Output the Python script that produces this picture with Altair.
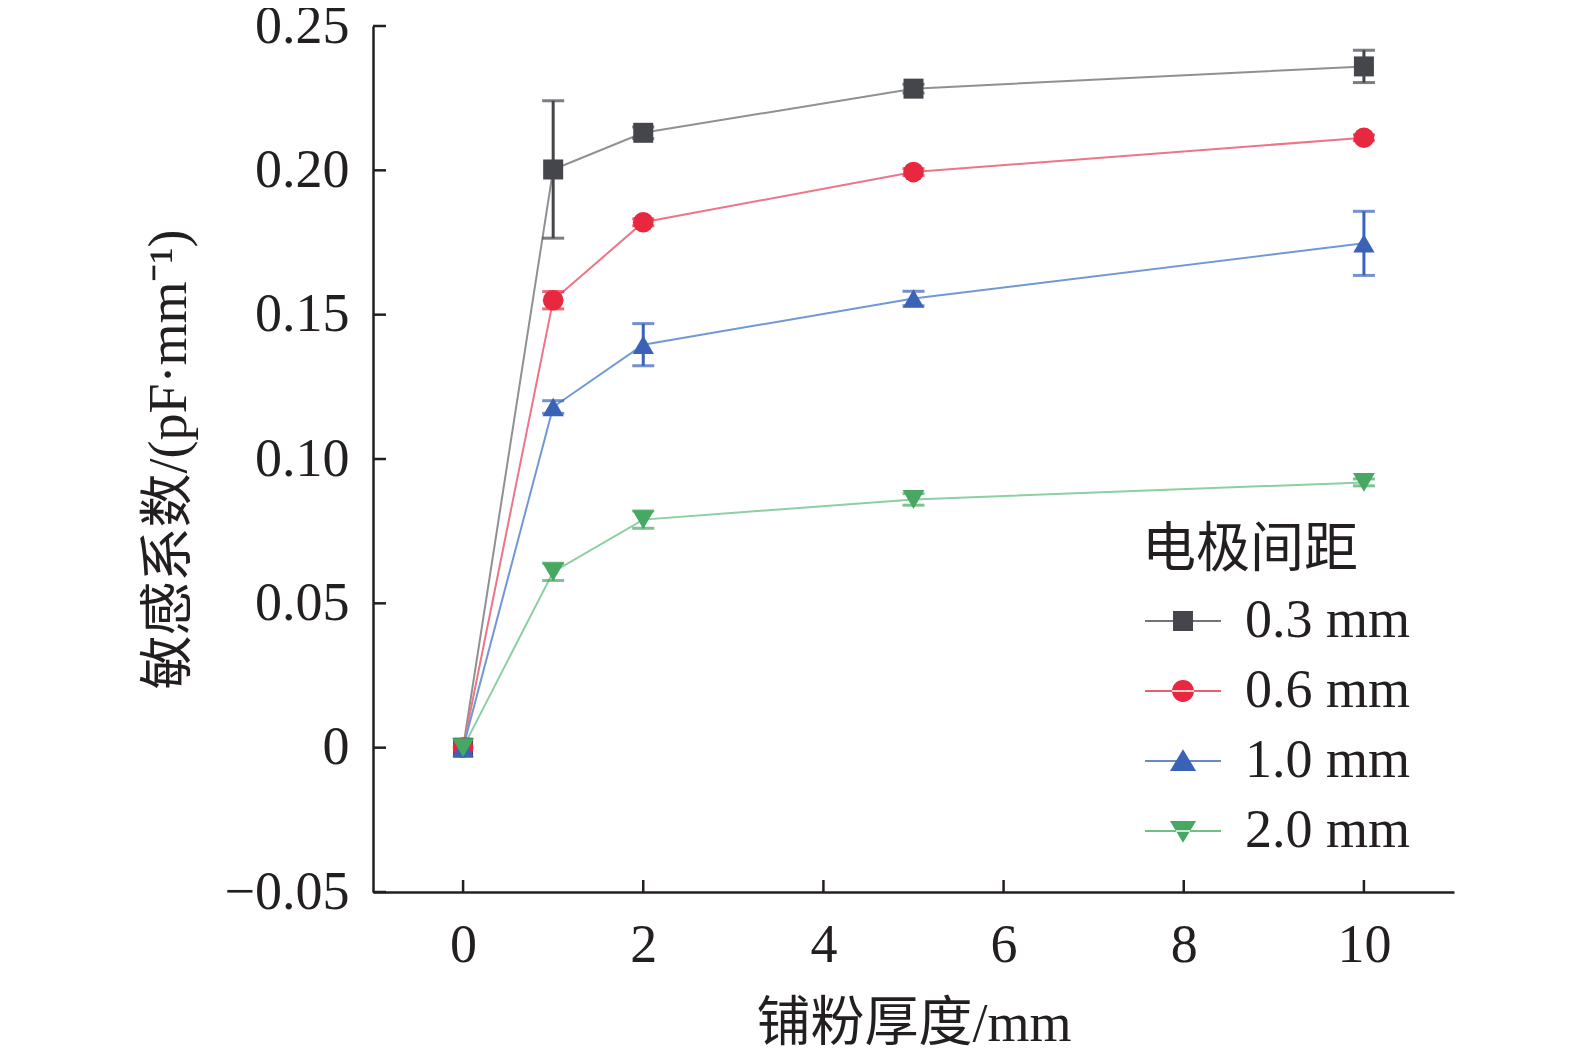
import altair as alt
import pandas as pd

# ---------------- data ----------------
X = [0, 1, 2, 5, 10]
SERIES = ["0.3 mm", "0.6 mm", "1.0 mm", "2.0 mm"]
Y_03 = [0.0, 0.2003, 0.2130, 0.2283, 0.2360]
E_03 = [0.0, 0.0238, 0.0020, 0.0015, 0.0056]
Y_06 = [0.0, 0.1550, 0.1820, 0.1994, 0.2113]
E_06 = [0.0, 0.0030, 0.0012, 0.0012, 0.0010]
Y_10 = [0.0, 0.1180, 0.1396, 0.1556, 0.1747]
E_10 = [0.0, 0.0022, 0.0073, 0.0025, 0.0111]
Y_20 = [0.0, 0.0609, 0.0790, 0.0860, 0.0919]
E_20 = [0.0, 0.0030, 0.0030, 0.0020, 0.0012]

X_TICKS = [0, 2, 4, 6, 8, 10]
Y_TICKS = [-0.05, 0.0, 0.05, 0.10, 0.15, 0.20, 0.25]
Y_TICK_LABELS = ["\u22120.05", "0", "0.05", "0.10", "0.15", "0.20", "0.25"]

X_TITLE = "铺粉厚度/mm"
Y_TITLE = "敏感系数/(pF·mm\u207b\u00b9)"
LEGEND_TITLE = "电极间距"

MARKER_COLORS = ["#45464c", "#e8283f", "#3a63b8", "#46a862"]
LINE_COLORS = ["#909090", "#ec7587", "#7198d6", "#8bcfa2"]
SHAPES = ["square", "circle", "triangle-up", "triangle-down"]
MARKER_SIZES = [400, 480, 560, 560]

# legend symbols: horizontal line + marker (unit = sqrt(size)/2)
LINE_PATH = "M-1.01,-0.035H2.19V0.035H-1.01Z"
LEGEND_PATHS = [
    LINE_PATH + "M0.17,-0.42H1.01V0.42H0.17Z",
    LINE_PATH + "M0.13,0a0.46,0.46 0 1,0 0.92,0a0.46,0.46 0 1,0 -0.92,0Z",
    LINE_PATH + "M0.59,-0.5L1.14,0.42L0.04,0.42Z",
    LINE_PATH + "M0.59,0.5L1.14,-0.42L0.04,-0.42Z",
]

FONT = "Liberation Serif, Noto Sans CJK SC"
TXT = "#231f20"

rows = []
for s, ys_, es_ in zip(SERIES, [Y_03, Y_06, Y_10, Y_20], [E_03, E_06, E_10, E_20]):
    for x, y, e in zip(X, ys_, es_):
        rows.append(dict(series=s, x=x, y=y, e=e, lo=y - e, hi=y + e))
df = pd.DataFrame(rows)
df_err = df[df["e"] > 0]
df_yt = pd.DataFrame({"v": Y_TICKS})
df_xt = pd.DataFrame({"v": X_TICKS})

W, H = 1081, 866

xscale = alt.Scale(domain=[-1, 11], nice=False, zero=False)
yscale = alt.Scale(domain=[-0.05, 0.25], nice=False, zero=False)

label_expr = ""
for v, lab in zip(Y_TICKS, Y_TICK_LABELS):
    label_expr += f"abs(datum.value - ({v})) < 1e-6 ? '{lab}' : "
label_expr += "format(datum.value, '.2f')"

xaxis = alt.Axis(
    values=X_TICKS, ticks=False, tickSize=0, grid=False, domainColor=TXT, domainWidth=2.5,
    labelFont=FONT, labelFontSize=54, labelColor=TXT, labelPadding=26,
    title=X_TITLE, titleFont=FONT, titleFontSize=54, titleFontWeight="normal",
    titleColor=TXT, titleBaseline="alphabetic", titleY=148, titleX=W / 2,
)
yaxis = alt.Axis(
    values=Y_TICKS, ticks=False, tickSize=0, grid=False, domainColor=TXT, domainWidth=2.5,
    labelFont=FONT, labelFontSize=54, labelColor=TXT, labelPadding=24, labelExpr=label_expr,
    title=Y_TITLE, titleFont=FONT, titleFontSize=54, titleFontWeight="normal",
    titleColor=TXT, titleAngle=-90, titleBaseline="alphabetic", titleAlign="center",
    titleX=-188, titleY=H / 2,
)


def X_(f):
    return alt.X(f, type="quantitative", scale=xscale, axis=xaxis)


def Y_(f):
    return alt.Y(f, type="quantitative", scale=yscale, axis=yaxis)


mcol = alt.Scale(domain=SERIES, range=MARKER_COLORS)
lcol = alt.Scale(domain=SERIES, range=LINE_COLORS)

lines = alt.Chart(df).mark_line(strokeWidth=2).encode(
    x=X_("x"), y=Y_("y"),
    stroke=alt.Stroke("series:N", scale=lcol, legend=None),
    detail="series:N",
)

err_rule = alt.Chart(df_err).mark_rule(strokeWidth=3).encode(
    x=X_("x"), y=Y_("lo"), y2="hi",
    color=alt.Color("series:N", scale=mcol, legend=None),
)
cap_lo = alt.Chart(df_err).mark_tick(orient="horizontal", size=22, thickness=3).encode(
    x=X_("x"), y=Y_("lo"),
    color=alt.Color("series:N", scale=mcol, legend=None),
)
cap_hi = alt.Chart(df_err).mark_tick(orient="horizontal", size=22, thickness=3).encode(
    x=X_("x"), y=Y_("hi"),
    color=alt.Color("series:N", scale=mcol, legend=None),
)

points = alt.Chart(df).mark_point(filled=True, opacity=1).encode(
    x=X_("x"), y=Y_("y"),
    color=alt.Color("series:N", scale=mcol, legend=None),
    shape=alt.Shape("series:N", scale=alt.Scale(domain=SERIES, range=SHAPES), legend=None),
    size=alt.Size("series:N", scale=alt.Scale(domain=SERIES, range=MARKER_SIZES), legend=None),
)

yticks = alt.Chart(df_yt).mark_rule(color=TXT, strokeWidth=2.5).encode(
    y=Y_("v"), x=alt.value(0), x2=alt.value(13),
)
xticks = alt.Chart(df_xt).mark_rule(color=TXT, strokeWidth=2.5).encode(
    x=X_("v"), y=alt.value(H), y2=alt.value(H - 12),
)

leg = alt.Legend(
    title=LEGEND_TITLE, orient="none", legendX=769, legendY=498, padding=0,
    titleFont=FONT, titleFontSize=54, titleFontWeight="normal", titleColor=TXT,
    titlePadding=16, titleLimit=600, labelFont=FONT, labelFontSize=54, labelColor=TXT,
    labelLimit=600, labelOffset=49, symbolSize=2256, rowPadding=16, symbolStrokeWidth=0,
)
legend_layer = alt.Chart(df).mark_point(filled=True, clip=True, opacity=1, size=2256).encode(
    x=alt.value(-3000), y=alt.value(-3000),
    color=alt.Color("series:N", scale=alt.Scale(domain=SERIES, range=MARKER_COLORS), legend=leg),
    shape=alt.Shape("series:N", scale=alt.Scale(domain=SERIES, range=LEGEND_PATHS), legend=leg),
)

chart = alt.layer(
    lines, err_rule, cap_lo, cap_hi, points, yticks, xticks, legend_layer
).resolve_scale(
    color="independent", shape="independent", size="independent"
).properties(
    width=W, height=H,
    background="white",
    autosize=alt.AutoSizeParams(type="none"),
    padding={"left": 365, "top": 18, "right": 90, "bottom": 166},
).configure_view(stroke=None)

chart.save("out.html", embed_options={"renderer": "svg", "actions": False})
